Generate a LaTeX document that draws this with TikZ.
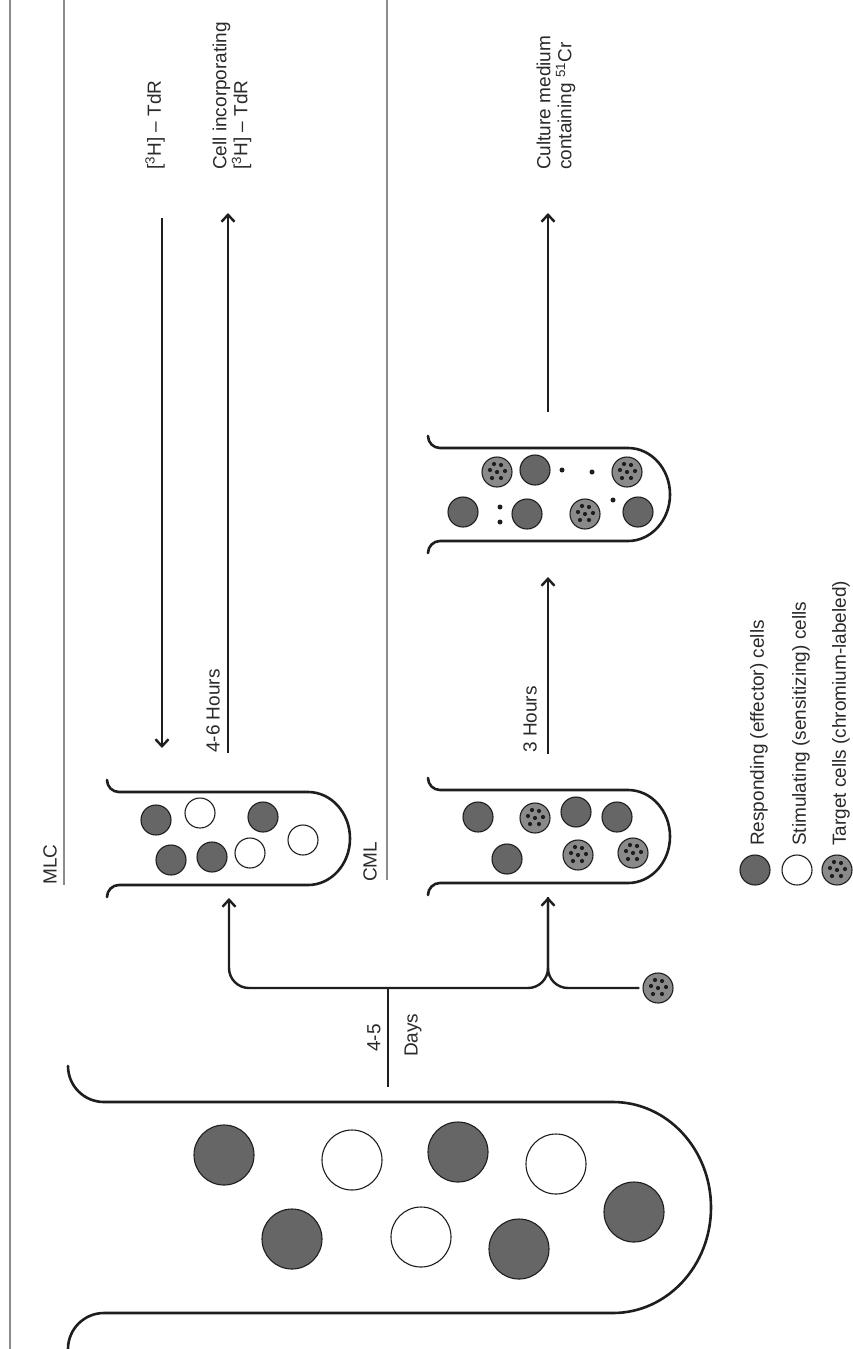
\documentclass[tikz,border=0pt]{standalone}
\usepackage{fontspec}
\setmainfont{Liberation Sans}
\usetikzlibrary{arrows.meta}
\definecolor{ink}{HTML}{1E1E1E}
\definecolor{txt}{HTML}{2A2A2A}
\definecolor{rulec}{HTML}{8C8C8C}
\definecolor{darkcell}{HTML}{666666}
\definecolor{targcell}{HTML}{8A8A8A}
\newcommand{\ttube}[6]{%
  \pgfmathsetmacro{\tubeha}{((#4)-(#3))/2}%
  \draw[tubeline] ({#1},{-(#3)+(#5)})
     arc[start angle=180,end angle=270,radius=#5]
     -- ({(#2)-(#6)},{-(#3)})
     arc[start angle=90,end angle=-90,x radius=#6,y radius=\tubeha]
     -- ({(#1)+(#5)},{-(#4)})
     arc[start angle=90,end angle=180,radius=#5];}
\begin{document}
\begin{tikzpicture}[x=1pt,y=1pt,
  tubeline/.style={draw=ink,line width=2.6pt,line cap=round},
  rulel/.style={draw=rulec,line width=1.2pt},
  conn/.style={draw=ink,line width=2.4pt},
  tip/.style={-{Straight Barb[length=7pt,width=13pt]}},
  lab/.style={text=txt,font=\fontsize{19}{21}\selectfont,inner sep=0pt,rotate=90,anchor=west,align=left},
  cell/.style={circle,draw=ink,line width=1.1pt,inner sep=0pt,minimum size=30pt},
  resp/.style={cell,fill=darkcell},
  stim/.style={cell,fill=white},
  targ/.style={cell,fill=targcell,path picture={\foreach \dx/\dy in {-5/-6,4/-6,8/1,-7/2,0/0,4/7,-3/8}{\fill[ink] (path picture bounding box.center) ++(\dx,\dy) circle (2.1);}}},
  big/.style={minimum size=60pt},
  crdot/.style={circle,fill=ink,inner sep=0pt,minimum size=5pt},
]
\useasboundingbox (0,0) rectangle (853,-1349);
\fill[white] (0,0) rectangle (853,-1349);
% rules
\coordinate (r0t) at (10,0); \coordinate (r0b) at (10,-1349);
\coordinate (r1t) at (64,0); \coordinate (r1b) at (64,-885);
\coordinate (r2t) at (387,0); \coordinate (r2b) at (387,-880);
\draw[rulel] (r0t) -- (r0b);
\draw[rulel] (r1t) -- (r1b);
\draw[rulel] (r2t) -- (r2b);
% labels
\node[lab] (mlclab) at (50,-885) {MLC};
\node[lab] (cmllab) at (370,-882) {CML};
\node[lab] (tdr) at (155,-170) {[\textsuperscript{3}H] -- TdR};
\node[lab] (inc) at (232,-170) {Cell incorporating\\{}[\textsuperscript{3}H] -- TdR};
\node[lab] (culture) at (556,-170) {Culture medium\\containing \textsuperscript{51}Cr};
\node[lab] (h46) at (213,-753) {4-6 Hours};
\node[lab] (h3) at (530,-753) {3 Hours};
\node[lab] (d45) at (374,-1052) {4-5};
\node[lab] (days) at (413,-1057) {Days};
% tubes
\ttube{107}{350}{792}{885}{12}{42}
\ttube{428}{670}{790}{883}{12}{42}
\ttube{428}{670}{448}{541}{12}{42}
\ttube{68}{711}{1102}{1313}{36}{98}
% big tube cells
\node[resp,big] (b1) at (224,-1155) {};
\node[stim,big] (b2) at (352,-1160) {};
\node[resp,big] (b3) at (458,-1152) {};
\node[stim,big] (b4) at (556,-1164) {};
\node[resp,big] (b5) at (292,-1239) {};
\node[stim,big] (b6) at (421,-1237) {};
\node[resp,big] (b7) at (519,-1249) {};
\node[resp,big] (b8) at (634,-1212) {};
% MLC tube cells
\node[resp] (m1) at (156,-820) {};
\node[stim] (m2) at (200,-813) {};
\node[resp] (m3) at (263,-817) {};
\node[resp] (m4) at (171,-860) {};
\node[resp] (m5) at (212,-857) {};
\node[stim] (m6) at (250,-853) {};
\node[stim] (m7) at (303,-840) {};
% CML tube cells
\node[resp] (c1) at (478,-817) {};
\node[targ] (c2) at (535,-818) {};
\node[resp] (c3) at (576,-812) {};
\node[resp] (c4) at (617,-817) {};
\node[resp] (c5) at (507,-859) {};
\node[targ] (c6) at (578,-855) {};
\node[targ] (c7) at (633,-853) {};
% result tube cells
\node[resp] (k1) at (463,-512) {};
\node[targ] (k2) at (497,-472) {};
\node[resp] (k3) at (535,-470) {};
\node[resp] (k4) at (527,-514) {};
\node[targ] (k5) at (585,-514) {};
\node[targ] (k6) at (627,-472) {};
\node[resp] (k7) at (638,-512) {};
\node[crdot] (d1) at (613,-500) {};
\node[crdot] (d2) at (500,-507) {};
\node[crdot] (d3) at (500,-522) {};
\node[crdot] (d4) at (562,-470) {};
\node[crdot] (d5) at (592,-472) {};
% connectors
\coordinate (m1s) at (162,-218); \coordinate (m1e) at (162,-748);
\coordinate (m2s) at (228,-753); \coordinate (m2e) at (228,-213);
\coordinate (c1s) at (548,-754); \coordinate (c1e) at (548,-577);
\coordinate (c2s) at (548,-412); \coordinate (c2e) at (548,-213);
\draw[conn,tip] (m1s) -- (m1e);
\draw[conn,tip] (m2s) -- (m2e);
\draw[conn,tip] (c1s) -- (c1e);
\draw[conn,tip] (c2s) -- (c2e);
\coordinate (bigtop) at (388,-1087);
\coordinate (jb) at (388,-988);
\coordinate (mlcin) at (229,-898);
\coordinate (cmlin) at (548,-897);
\node[targ] (tnew) at (658,-988) {};
\draw[conn] (bigtop) -- (jb);
\draw[conn,tip,rounded corners=20pt] (jb) -| (mlcin);
\draw[conn,tip,rounded corners=20pt] (jb) -| (cmlin);
\draw[conn,rounded corners=20pt,shorten <=3pt] (tnew.west) -| (cmlin);
% legend
\node[resp] (l1) at (755,-870) {};
\node[stim] (l2) at (797,-870) {};
\node[targ] (l3) at (837,-870) {};
\node[lab] (lt1) at (759,-846) {Responding (effector) cells};
\node[lab] (lt2) at (801,-846) {Stimulating (sensitizing) cells};
\node[lab] (lt3) at (841,-846) {Target cells (chromium-labeled)};
\end{tikzpicture}
\end{document}
